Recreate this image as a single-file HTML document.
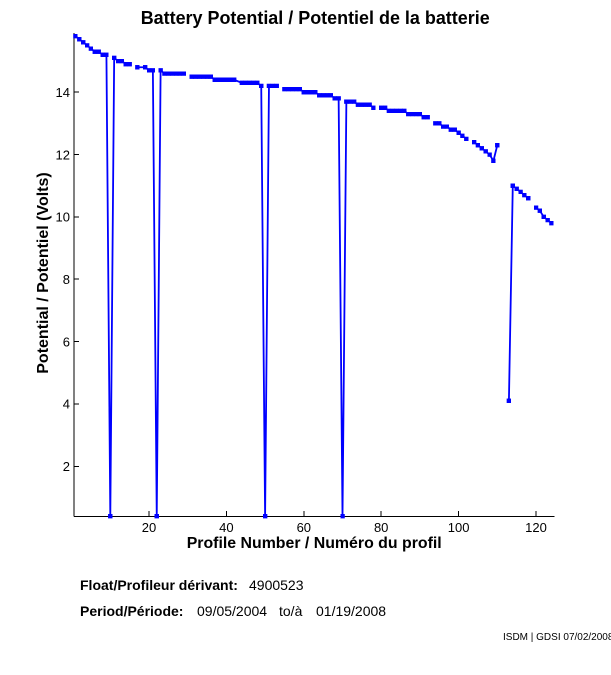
<!DOCTYPE html>
<html><head><meta charset="utf-8"><style>
html,body{margin:0;padding:0;background:#fff;}
svg{display:block;}
text{font-family:"Liberation Sans",Arial,sans-serif;fill:#000;}
</style></head><body>
<svg width="611" height="675" viewBox="0 0 611 675" xmlns="http://www.w3.org/2000/svg">
<defs>
<marker id="m" viewBox="0 0 4.5 4.5" refX="2.25" refY="2.25" markerWidth="4.5" markerHeight="4.5" markerUnits="userSpaceOnUse">
<rect x="0" y="0" width="4.5" height="4.5" fill="#0000ff"/>
</marker>
</defs>
<rect width="611" height="675" fill="#fff"/>
<text x="140.7" y="24" font-size="18" font-weight="bold" textLength="349" lengthAdjust="spacingAndGlyphs">Battery Potential / Potentiel de la batterie</text>

<g stroke="#000" stroke-width="1" fill="none" shape-rendering="crispEdges">
<line x1="74" y1="33" x2="74" y2="516.5"/>
<line x1="74" y1="516.5" x2="554.5" y2="516.5"/>
<line x1="74" y1="466.3" x2="79" y2="466.3"/>
<line x1="74" y1="403.9" x2="79" y2="403.9"/>
<line x1="74" y1="341.6" x2="79" y2="341.6"/>
<line x1="74" y1="279.2" x2="79" y2="279.2"/>
<line x1="74" y1="216.9" x2="79" y2="216.9"/>
<line x1="74" y1="154.6" x2="79" y2="154.6"/>
<line x1="74" y1="92.2" x2="79" y2="92.2"/>
<line x1="149" y1="516" x2="149" y2="511"/>
<line x1="226.4" y1="516" x2="226.4" y2="511"/>
<line x1="303.8" y1="516" x2="303.8" y2="511"/>
<line x1="381.2" y1="516" x2="381.2" y2="511"/>
<line x1="458.6" y1="516" x2="458.6" y2="511"/>
<line x1="536" y1="516" x2="536" y2="511"/>
</g>

<g font-size="13" text-anchor="end">
<text x="70" y="471">2</text>
<text x="70" y="408.6">4</text>
<text x="70" y="346.3">6</text>
<text x="70" y="283.9">8</text>
<text x="70" y="221.6">10</text>
<text x="70" y="159.3">12</text>
<text x="70" y="96.9">14</text>
</g>
<g font-size="13" text-anchor="middle">
<text x="149" y="532">20</text>
<text x="226.4" y="532">40</text>
<text x="303.8" y="532">60</text>
<text x="381.2" y="532">80</text>
<text x="458.6" y="532">100</text>
<text x="536" y="532">120</text>
</g>

<text x="186.7" y="548" font-size="16" font-weight="bold" textLength="255" lengthAdjust="spacingAndGlyphs">Profile Number / Numéro du profil</text>
<text transform="translate(48,273) rotate(-90)" x="0" y="0" font-size="16" font-weight="bold" text-anchor="middle">Potential / Potentiel (Volts)</text>

<g fill="none" stroke="#0000ff" stroke-width="1.8" stroke-linejoin="miter" marker-start="url(#m)" marker-mid="url(#m)" marker-end="url(#m)">
<polyline points="75.47,36.11 79.34,39.23 83.21,42.35 87.08,45.46 90.95,48.58 94.82,51.70 98.69,51.70 102.56,54.82 106.43,54.82 110.30,516.13 114.17,57.93 118.04,61.05 121.91,61.05 125.78,64.17 129.65,64.17"/>
<polyline points="137.39,67.28 145.13,67.28 149.00,70.40 152.87,70.40 156.74,516.13 160.61,70.40 164.48,73.52 168.35,73.52 172.22,73.52 176.09,73.52 179.96,73.52 183.83,73.52"/>
<polyline points="191.57,76.64 195.44,76.64 199.31,76.64 203.18,76.64 207.05,76.64 210.92,76.64 214.79,79.75 218.66,79.75 222.53,79.75 226.40,79.75 230.27,79.75 234.14,79.75 241.88,82.87 245.75,82.87 249.62,82.87 253.49,82.87 257.36,82.87 261.23,85.99 265.10,516.13 268.97,85.99 272.84,85.99 276.71,85.99"/>
<polyline points="284.45,89.10 288.32,89.10 292.19,89.10 296.06,89.10 299.93,89.10 303.80,92.22 307.67,92.22 311.54,92.22 315.41,92.22 319.28,95.34 323.15,95.34 327.02,95.34 330.89,95.34 334.76,98.45 338.63,98.45 342.50,516.13 346.37,101.57 350.24,101.57 354.11,101.57 357.98,104.69 361.85,104.69 365.72,104.69 369.59,104.69 373.46,107.81"/>
<polyline points="381.20,107.81 385.07,107.81 388.94,110.92 392.81,110.92 396.68,110.92 400.55,110.92 404.42,110.92 408.29,114.04 412.16,114.04 416.03,114.04 419.90,114.04 423.77,117.16 427.64,117.16"/>
<polyline points="435.38,123.39 439.25,123.39 443.12,126.51 446.99,126.51 450.86,129.62 454.73,129.62 458.60,132.74 462.47,135.86 466.34,138.98"/>
<polyline points="474.08,142.09 477.95,145.21 481.82,148.33 485.69,151.44 489.56,154.56 493.43,160.79 497.30,145.21"/>
<polyline points="508.91,400.80 512.78,185.73 516.65,188.85 520.52,191.96 524.39,195.08 528.26,198.20"/>
<polyline points="536.00,207.55 539.87,210.67 543.74,216.90 547.61,220.02 551.48,223.13"/>
</g>

<text x="80" y="590" font-size="14" font-weight="bold">Float/Profileur dérivant:</text>
<text x="249" y="590" font-size="14">4900523</text>
<text x="80" y="616" font-size="14" font-weight="bold">Period/Période:</text>
<text x="197" y="616" font-size="14">09/05/2004</text>
<text x="279" y="616" font-size="14">to/à</text>
<text x="316" y="616" font-size="14">01/19/2008</text>
<text x="503" y="640" font-size="10">ISDM | GDSI 07/02/2008</text>
</svg>
</body></html>
